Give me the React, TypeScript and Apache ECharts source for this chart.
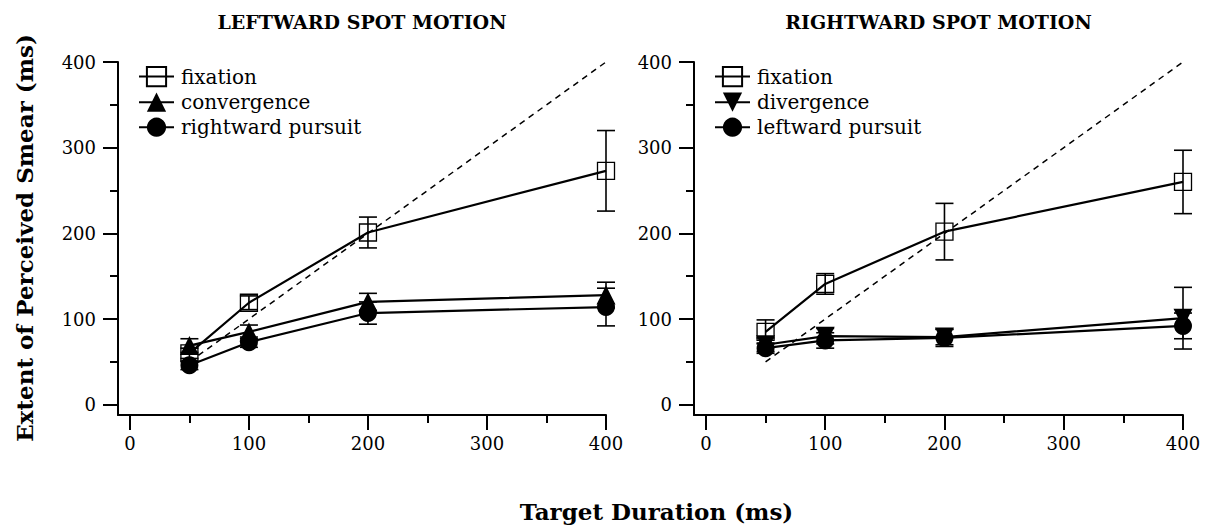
import React, { useEffect, useRef } from 'react';
import * as echarts from 'echarts';

// ---- data ----
const durations = [50, 100, 200, 400];

const leftFixation = [60, 119, 201, 273];
const leftFixationErr = [6, 8, 18, 47];
const convergence = [69, 85, 120, 128];
const convergenceErr = [8, 8, 10, 15];
const rightwardPursuit = [46, 73, 107, 114];
const rightwardPursuitErr = [5, 6, 13, 22];

const rightFixation = [85, 141, 202, 260];
const rightFixationErr = [14, 12, 33, 37];
const divergence = [70, 80, 79, 101];
const divergenceErr = [8, 9, 9, 36];
const leftwardPursuit = [66, 75, 78, 92];
const leftwardPursuitErr = [6, 9, 10, 15];

const identityLine = [50, 400];

const xMajorTicks = [0, 100, 200, 300, 400];
const xMinorTicks = [50, 150, 250, 350];
const yMajorTicks = [0, 100, 200, 300, 400];
const yMinorTicks = [50, 150, 250, 350];

const panelTitles = ['LEFTWARD SPOT MOTION', 'RIGHTWARD SPOT MOTION'];
const legendLeft = ['fixation', 'convergence', 'rightward pursuit'];
const legendRight = ['fixation', 'divergence', 'leftward pursuit'];
const xTitle = 'Target Duration (ms)';
const yTitle = 'Extent of Perceived Smear (ms)';

const FONT = '"DejaVu Serif", serif';

function pairs(vals: number[]) {
  return durations.map((d, i) => [d, vals[i]]);
}
function errData(vals: number[], errs: number[]) {
  return durations.map((d, i) => [d, vals[i] - errs[i], vals[i] + errs[i]]);
}

const errRender = (params: any, api: any) => {
  const x = api.value(0);
  const lo = api.value(1);
  const hi = api.value(2);
  const top = api.coord([x, hi]);
  const bot = api.coord([x, lo]);
  const half = 9;
  const style = { stroke: '#000', lineWidth: 1.6 };
  return {
    type: 'group',
    children: [
      { type: 'line', shape: { x1: top[0], y1: top[1], x2: bot[0], y2: bot[1] }, style },
      { type: 'line', shape: { x1: top[0] - half, y1: top[1], x2: top[0] + half, y2: top[1] }, style },
      { type: 'line', shape: { x1: bot[0] - half, y1: bot[1], x2: bot[0] + half, y2: bot[1] }, style },
    ],
  };
};

export default function App() {
  const ref = useRef<HTMLDivElement>(null);

  useEffect(() => {
    document.body.style.margin = '0';
    if (!ref.current) return;
    const chart = echarts.init(ref.current, null, { renderer: 'svg' });

    const grids = [
      { left: 118, top: 62, width: 488, height: 353 },
      { left: 694, top: 62, width: 489, height: 353 },
    ];

    const xAxes: any[] = [];
    const yAxes: any[] = [];
    grids.forEach((_, g) => {
      xAxes.push({
        gridIndex: g,
        type: 'value',
        position: 'bottom',
        min: -10,
        max: 400,
        axisLine: { show: true, onZero: false, lineStyle: { color: '#000', width: 2 } },
        axisTick: { show: true, customValues: xMajorTicks, length: 15, lineStyle: { color: '#000', width: 2 } },
        axisLabel: { customValues: xMajorTicks, margin: 19, fontSize: 18, fontFamily: FONT, color: '#000' },
        splitLine: { show: false },
      });
      xAxes.push({
        gridIndex: g,
        type: 'value',
        position: 'bottom',
        offset: 0,
        min: -10,
        max: 400,
        axisLine: { show: false, onZero: false },
        axisTick: { show: true, customValues: xMinorTicks, length: 8, lineStyle: { color: '#000', width: 2 } },
        axisLabel: { show: false },
        splitLine: { show: false },
      });
      yAxes.push({
        gridIndex: g,
        type: 'value',
        position: 'left',
        min: -12,
        max: 400,
        axisLine: { show: true, onZero: false, lineStyle: { color: '#000', width: 2 } },
        axisTick: { show: true, customValues: yMajorTicks, length: 15, lineStyle: { color: '#000', width: 2 } },
        axisLabel: { customValues: yMajorTicks, margin: 22, fontSize: 18, fontFamily: FONT, color: '#000' },
        splitLine: { show: false },
      });
      yAxes.push({
        gridIndex: g,
        type: 'value',
        position: 'left',
        offset: 0,
        min: -12,
        max: 400,
        axisLine: { show: false, onZero: false },
        axisTick: { show: true, customValues: yMinorTicks, length: 8, lineStyle: { color: '#000', width: 2 } },
        axisLabel: { show: false },
        splitLine: { show: false },
      });
    });

    const lineSeries = (
      name: string,
      vals: number[],
      g: number,
      symbol: string,
      filled: boolean,
      rotate = 0,
      size = 18
    ) => ({
      name,
      type: 'line',
      xAxisIndex: 2 * g,
      yAxisIndex: 2 * g,
      data: pairs(vals),
      symbol,
      symbolSize: size,
      symbolRotate: rotate,
      showAllSymbol: true,
      color: '#000',
      lineStyle: { color: '#000', width: 2.2 },
      itemStyle: filled
        ? { color: '#000', borderColor: '#000', borderWidth: 0 }
        : { color: 'rgba(0,0,0,0)', borderColor: '#000', borderWidth: 1.3 },
      z: 3,
      emphasis: { disabled: true },
    });

    const errSeries = (vals: number[], errs: number[], g: number) => ({
      type: 'custom',
      xAxisIndex: 2 * g,
      yAxisIndex: 2 * g,
      data: errData(vals, errs),
      encode: { x: 0, y: [1, 2] },
      renderItem: errRender,
      z: 1,
      silent: true,
    });

    const dashSeries = (g: number) => ({
      type: 'line',
      xAxisIndex: 2 * g,
      yAxisIndex: 2 * g,
      data: identityLine.map((v) => [v, v]),
      symbol: 'none',
      lineStyle: { color: '#000', width: 1.5, type: [6, 5] },
      z: 2,
      silent: true,
    });

    const series: any[] = [
      errSeries(leftFixation, leftFixationErr, 0),
      errSeries(convergence, convergenceErr, 0),
      errSeries(rightwardPursuit, rightwardPursuitErr, 0),
      errSeries(rightFixation, rightFixationErr, 1),
      errSeries(divergence, divergenceErr, 1),
      errSeries(leftwardPursuit, leftwardPursuitErr, 1),
      dashSeries(0),
      dashSeries(1),
      lineSeries(legendLeft[0], leftFixation, 0, 'rect', false, 0, 17),
      lineSeries(legendLeft[1], convergence, 0, 'triangle', true, 0, 19),
      lineSeries(legendLeft[2], rightwardPursuit, 0, 'circle', true, 0, 18),
      lineSeries(legendRight[0], rightFixation, 1, 'rect', false, 0, 17),
      lineSeries(legendRight[1], divergence, 1, 'triangle', true, 180, 19),
      lineSeries(legendRight[2], leftwardPursuit, 1, 'circle', true, 0, 18),
    ];

    const legendCommon = {
      orient: 'vertical',
      top: 61,
      itemWidth: 35,
      itemHeight: 24,
      itemGap: 5,
      selectedMode: false,
      textStyle: { fontFamily: FONT, fontSize: 20, color: '#000', padding: [0, 0, 0, 2] },
    };

    const centers = grids.map((gr) => gr.left + gr.width / 2);

    chart.setOption({
      animation: false,
      backgroundColor: '#fff',
      grid: grids,
      xAxis: xAxes,
      yAxis: yAxes,
      legend: [
        { ...legendCommon, left: 133, data: legendLeft },
        { ...legendCommon, left: 709, data: legendRight },
      ],
      graphic: [
        ...panelTitles.map((t, i) => ({
          type: 'text',
          x: centers[i],
          y: 22,
          style: {
            text: t,
            font: `bold 19px ${FONT}`,
            fill: '#000',
            textAlign: 'center',
            textVerticalAlign: 'middle',
          },
        })),
        {
          type: 'text',
          x: (130 + 1183) / 2,
          y: 511,
          style: {
            text: xTitle,
            font: `bold 23px ${FONT}`,
            fill: '#000',
            textAlign: 'center',
            textVerticalAlign: 'middle',
          },
        },
        {
          type: 'text',
          x: 24,
          y: 238,
          rotation: Math.PI / 2,
          style: {
            text: yTitle,
            font: `bold 23px ${FONT}`,
            fill: '#000',
            textAlign: 'center',
            textVerticalAlign: 'middle',
          },
        },
      ],
      series,
    });

    return () => chart.dispose();
  }, []);

  return <div ref={ref} style={{ width: 1208, height: 527 }} />;
}
